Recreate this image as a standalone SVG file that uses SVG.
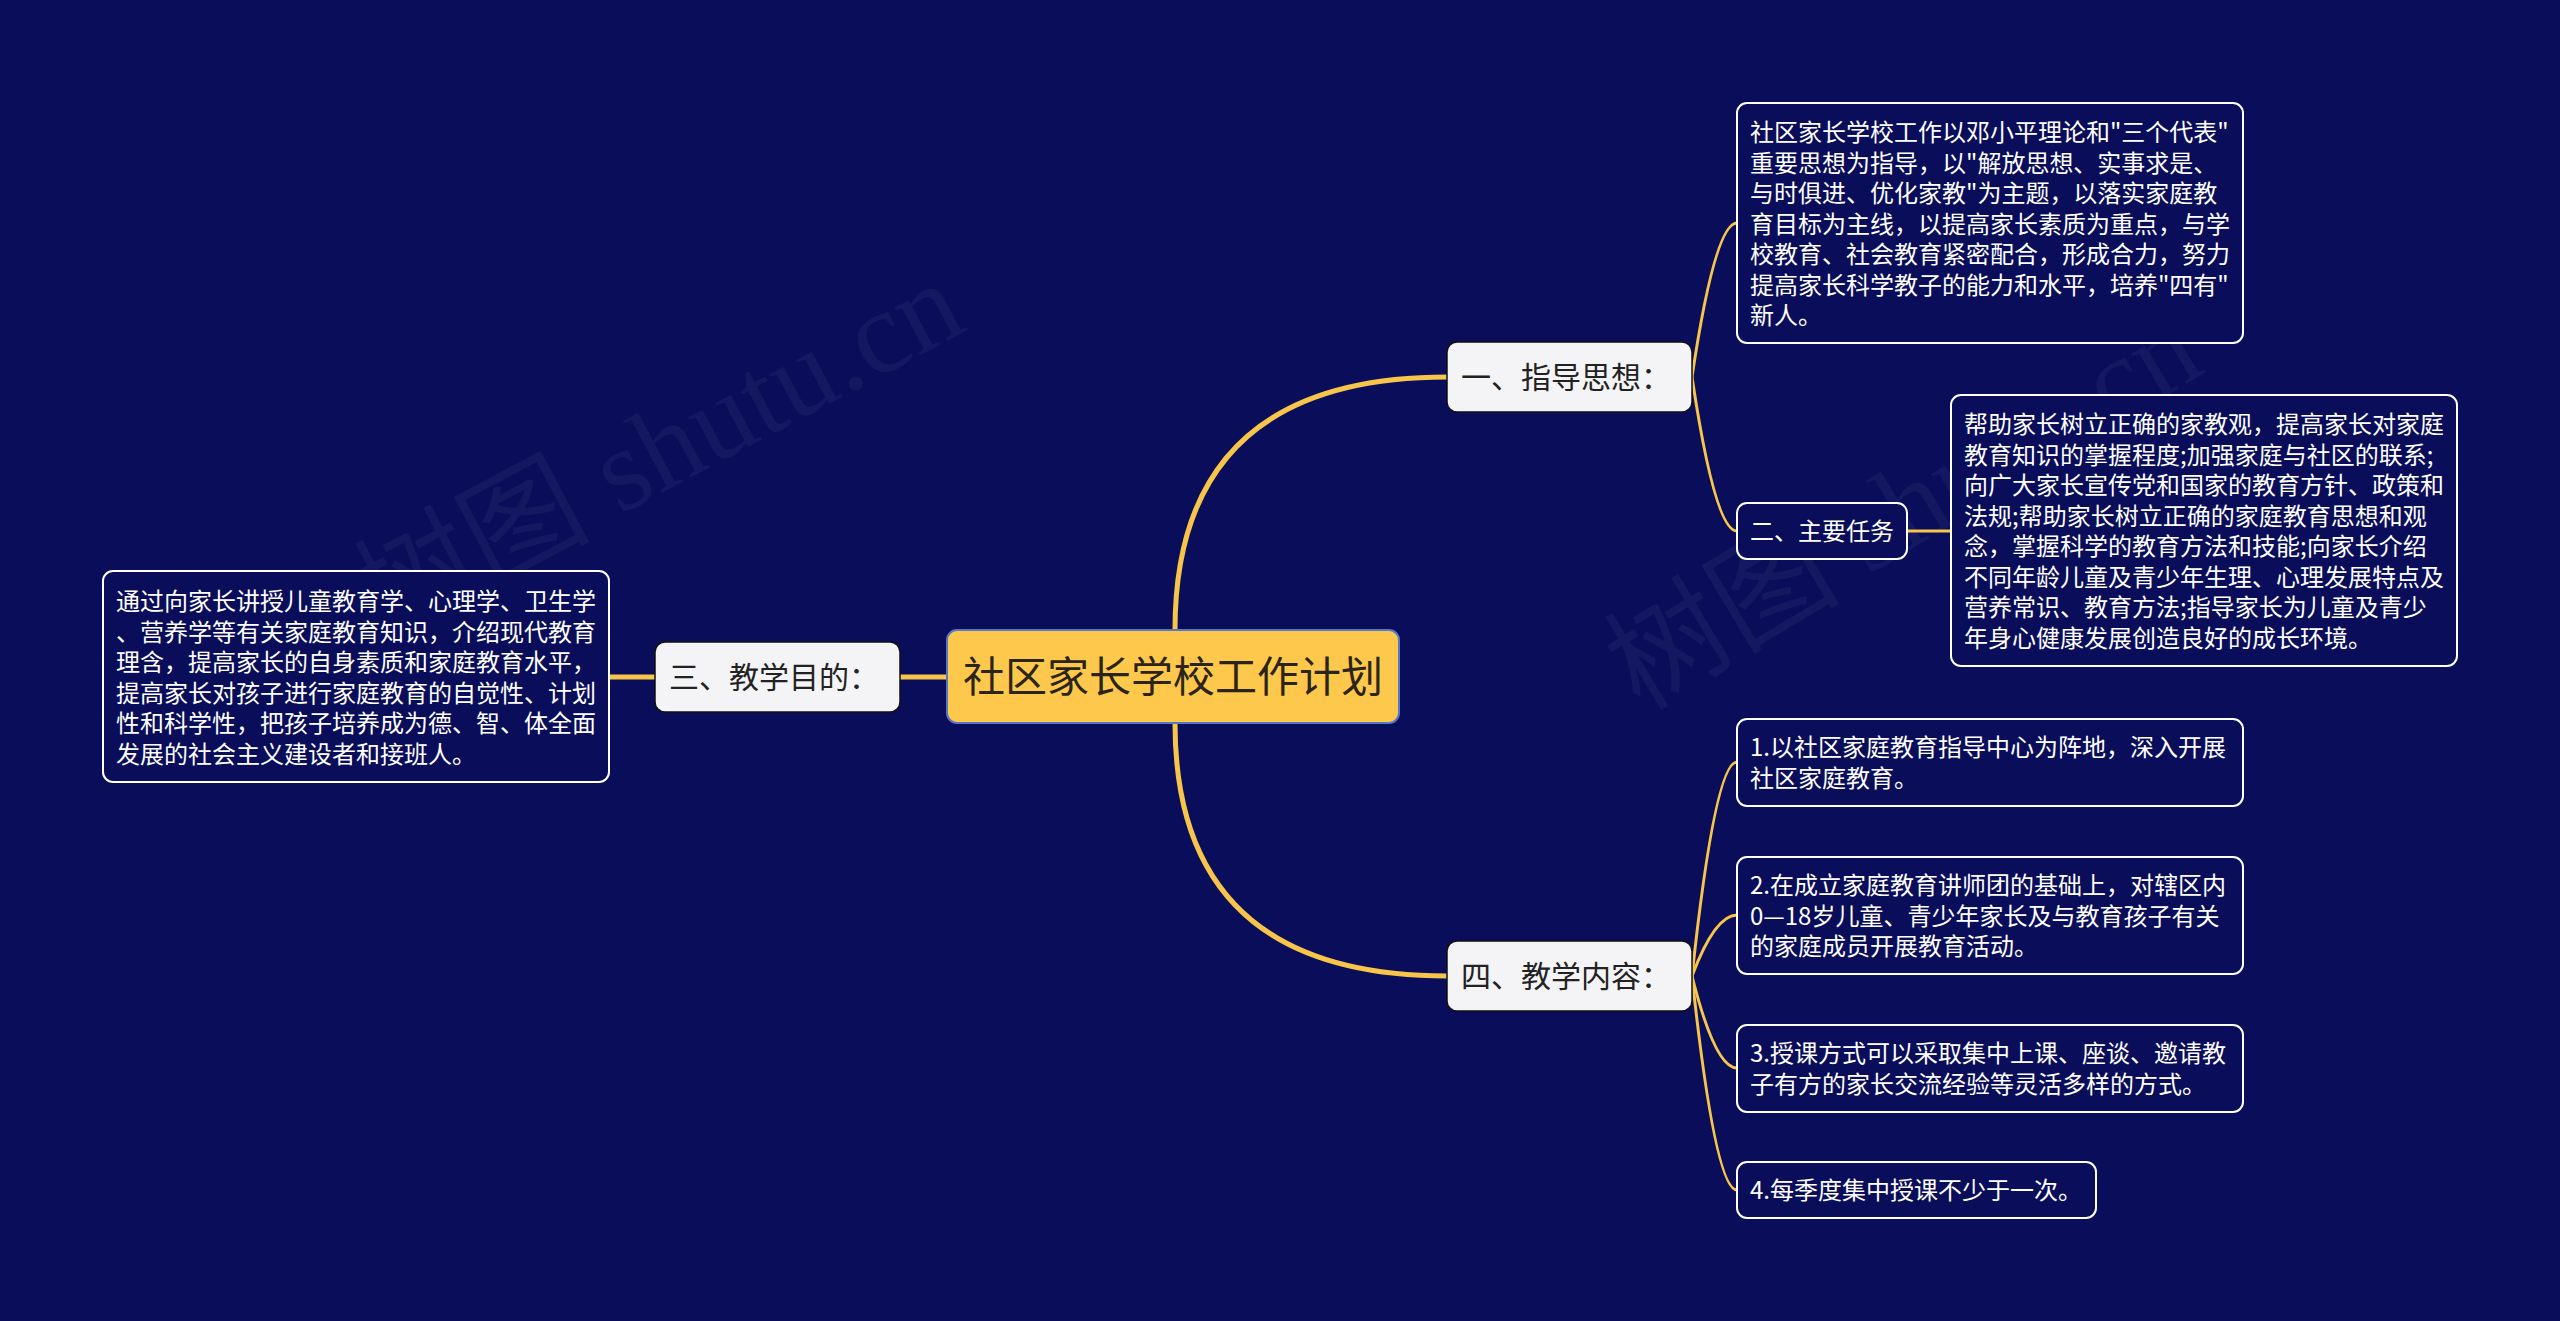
<svg xmlns="http://www.w3.org/2000/svg" width="2560" height="1321" viewBox="0 0 2560 1321">
<style>
.bg{fill:#0a0e5a}
.wm{font-family:"Liberation Serif","Noto Sans CJK SC",serif;font-size:118px;fill:#ffffff;fill-opacity:0.045}
.root rect{fill:#fdc84b;stroke:#5878c4;stroke-width:2}
.root text{font-family:"Noto Sans CJK SC",sans-serif;font-size:42px;fill:#2b2418;text-anchor:middle}
.l1 rect{fill:#f4f4f6;stroke:#111;stroke-width:1.5}
.l1 text{font-family:"Noto Sans CJK SC",sans-serif;font-size:30px;fill:#222}
.l2 rect{fill:#0a0e5a;stroke:#ffffff;stroke-width:2}
.l2 text{font-family:"Noto Sans CJK SC",sans-serif;font-size:24px;fill:#ffffff}
.main{fill:none;stroke:#f6c54a;stroke-width:5;stroke-linecap:round}
.sub{fill:none;stroke:#f6c54a;stroke-width:3;stroke-linecap:round}
</style>
<rect class="bg" x="0" y="0" width="2560" height="1321"/>
<g id="watermark">
<text class="wm" x="385" y="640" transform="rotate(-28 385 640)">树图 shutu.cn</text>
<text class="wm" x="1640" y="712" transform="rotate(-31 1640 712)">树图 shutu.cn</text>
</g>
<g id="connectors">
<path class="main" d="M1175,630 Q1175,377 1447,377"/>
<path class="main" d="M1175,723 Q1175,976 1447,976"/>
<path class="main" d="M947,677 L900,677"/>
<path class="main" d="M655,677 L609,677"/>
<path class="sub" d="M1692,377 Q1715,223 1737,223"/>
<path class="sub" d="M1692,377 Q1715,531 1737,531"/>
<path class="sub" d="M1907,531 L1951,531"/>
<path class="sub" d="M1692,976 Q1715,762 1737,762"/>
<path class="sub" d="M1692,976 Q1715,915 1737,915"/>
<path class="sub" d="M1692,976 Q1715,1068 1737,1068"/>
<path class="sub" d="M1692,976 Q1715,1190 1737,1190"/>
</g>
<g id="root" class="root">
<rect x="947" y="630" width="452" height="93" rx="10"/>
<text x="1173" y="692">社区家长学校工作计划</text>
</g>
<g id="n1" class="l1">
<rect x="1447" y="342" width="245" height="70" rx="10"/>
<text x="1461" y="388">一、指导思想：</text>
</g>
<g id="n4" class="l1">
<rect x="1447" y="941" width="245" height="70" rx="10"/>
<text x="1461" y="987">四、教学内容：</text>
</g>
<g id="n3" class="l1">
<rect x="655" y="642" width="245" height="70" rx="10"/>
<text x="669" y="688">三、教学目的：</text>
</g>
<g id="n2" class="l2">
<rect x="1737" y="503" width="170" height="56" rx="10"/>
<text x="1750" y="540">二、主要任务</text>
</g>
<g id="n1a" class="l2">
<rect x="1737" y="103" width="506" height="240" rx="10"/>
<text x="1750" y="141"><tspan x="1750">社区家长学校工作以邓小平理论和"三个代表"</tspan><tspan x="1750" dy="30.5">重要思想为指导，以"解放思想、实事求是、</tspan><tspan x="1750" dy="30.5">与时俱进、优化家教"为主题，以落实家庭教</tspan><tspan x="1750" dy="30.5">育目标为主线，以提高家长素质为重点，与学</tspan><tspan x="1750" dy="30.5">校教育、社会教育紧密配合，形成合力，努力</tspan><tspan x="1750" dy="30.5">提高家长科学教子的能力和水平，培养"四有"</tspan><tspan x="1750" dy="30.5">新人。</tspan></text>
</g>
<g id="n2a" class="l2">
<rect x="1951" y="395" width="506" height="271" rx="10"/>
<text x="1964" y="433"><tspan x="1964">帮助家长树立正确的家教观，提高家长对家庭</tspan><tspan x="1964" dy="30.5">教育知识的掌握程度;加强家庭与社区的联系;</tspan><tspan x="1964" dy="30.5">向广大家长宣传党和国家的教育方针、政策和</tspan><tspan x="1964" dy="30.5">法规;帮助家长树立正确的家庭教育思想和观</tspan><tspan x="1964" dy="30.5">念，掌握科学的教育方法和技能;向家长介绍</tspan><tspan x="1964" dy="30.5">不同年龄儿童及青少年生理、心理发展特点及</tspan><tspan x="1964" dy="30.5">营养常识、教育方法;指导家长为儿童及青少</tspan><tspan x="1964" dy="30.5">年身心健康发展创造良好的成长环境。</tspan></text>
</g>
<g id="n3a" class="l2">
<rect x="103" y="571" width="506" height="211" rx="10"/>
<text x="116" y="610"><tspan x="116">通过向家长讲授儿童教育学、心理学、卫生学</tspan><tspan x="116" dy="30.5">、营养学等有关家庭教育知识，介绍现代教育</tspan><tspan x="116" dy="30.5">理含，提高家长的自身素质和家庭教育水平，</tspan><tspan x="116" dy="30.5">提高家长对孩子进行家庭教育的自觉性、计划</tspan><tspan x="116" dy="30.5">性和科学性，把孩子培养成为德、智、体全面</tspan><tspan x="116" dy="30.5">发展的社会主义建设者和接班人。</tspan></text>
</g>
<g id="n4a" class="l2">
<rect x="1737" y="719" width="506" height="87" rx="10"/>
<text x="1750" y="756"><tspan x="1750">1.以社区家庭教育指导中心为阵地，深入开展</tspan><tspan x="1750" dy="30.5">社区家庭教育。</tspan></text>
</g>
<g id="n4b" class="l2">
<rect x="1737" y="857" width="506" height="117" rx="10"/>
<text x="1750" y="894"><tspan x="1750">2.在成立家庭教育讲师团的基础上，对辖区内</tspan><tspan x="1750" dy="30.5">0—18岁儿童、青少年家长及与教育孩子有关</tspan><tspan x="1750" dy="30.5">的家庭成员开展教育活动。</tspan></text>
</g>
<g id="n4c" class="l2">
<rect x="1737" y="1025" width="506" height="87" rx="10"/>
<text x="1750" y="1062"><tspan x="1750">3.授课方式可以采取集中上课、座谈、邀请教</tspan><tspan x="1750" dy="30.5">子有方的家长交流经验等灵活多样的方式。</tspan></text>
</g>
<g id="n4d" class="l2">
<rect x="1737" y="1162" width="359" height="56" rx="10"/>
<text x="1750" y="1199">4.每季度集中授课不少于一次。</text>
</g>
</svg>
